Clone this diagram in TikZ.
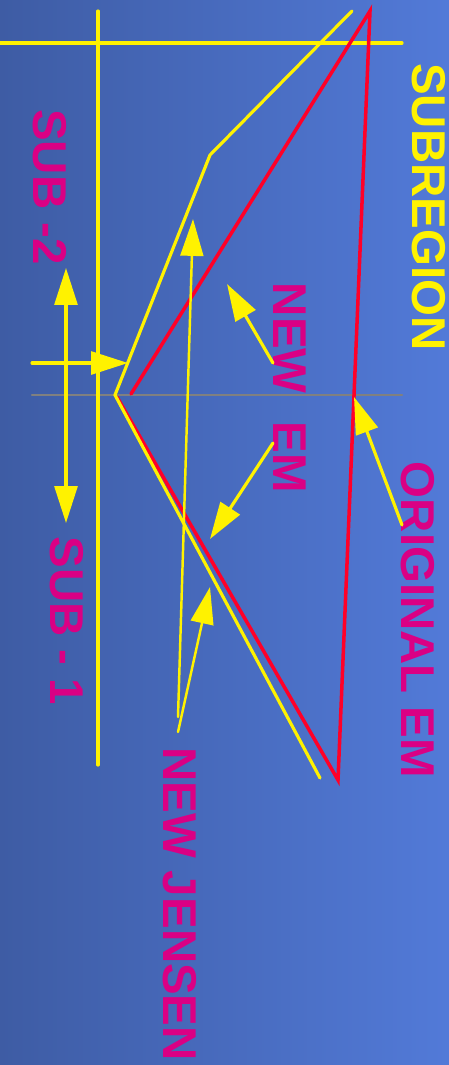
\documentclass[tikz,border=0pt]{standalone}
\usepackage{fontspec}
\setmainfont{Liberation Sans}
\usetikzlibrary{arrows.meta}
\definecolor{bgleft}{RGB}{62,92,164}
\definecolor{bgright}{RGB}{82,122,216}
\definecolor{emred}{RGB}{255,0,40}
\definecolor{labmag}{RGB}{218,0,132}
\definecolor{cutgray}{RGB}{128,128,128}

\begin{document}
\begin{tikzpicture}[x=0.02cm,y=-0.02cm,>={Triangle[length=21pt,width=13pt]},font=\bfseries\fontsize{27}{29}\selectfont,line cap=round,
  lab/.style={text=labmag,rotate=-90,inner sep=0pt},
  ylw/.style={yellow,line width=1.8pt},
  thinylw/.style={yellow,line width=1.4pt}]
\shade[left color=bgleft,right color=bgright] (0,0) rectangle (449,1065);
\useasboundingbox (0,0) rectangle (449,1065);
% labels
\node[lab,text=yellow] (subreg) at (429,207) {SUBREGION};
\node[lab] (subtwo) at (50,187) {SUB -2};
\node[lab] (newem) at (290,388) {NEW\hspace{0.6em}EM};
\node[lab] (subone) at (67,621) {SUB - 1};
\node[lab] (origem) at (418,620) {ORIGINAL EM};
\node[lab] (newjen) at (180,904) {NEW JENSEN};
% frame of the subregion
\draw[cutgray,line width=1.2pt] (32,395) -- (402,395);
\draw[ylw] (0,43) -- (402,43);
\draw[ylw] (98,11) -- (98,765);
% original EM
\draw[emred,line width=2pt] (131,394) -- (370,11) -- (338,780) -- (117,397);
% new EM
\draw[ylw] (352,11) -- (210,155) -- (115,395) -- (320,778);
% sub regions
\draw[<->,ylw] (66,268) -- (66,523);
\draw[->,ylw] (32,363) -- (128,363);
% pointers
\coordinate (nemtop) at (273,363);
\coordinate (nembot) at (273,443);
\coordinate (oemtail) at (402,525);
\coordinate (njtailA) at (178,717);
\coordinate (njtailB) at (178,732);
\draw[->,ylw] (nemtop) -- (227,284);
\draw[->,ylw] (nembot) -- (210,539);
\draw[->,ylw] (oemtail) -- (354,397);
\draw[->,thinylw] (njtailA) -- (193,219);
\draw[->,thinylw] (njtailB) -- (210,587);
\end{tikzpicture}
\end{document}
